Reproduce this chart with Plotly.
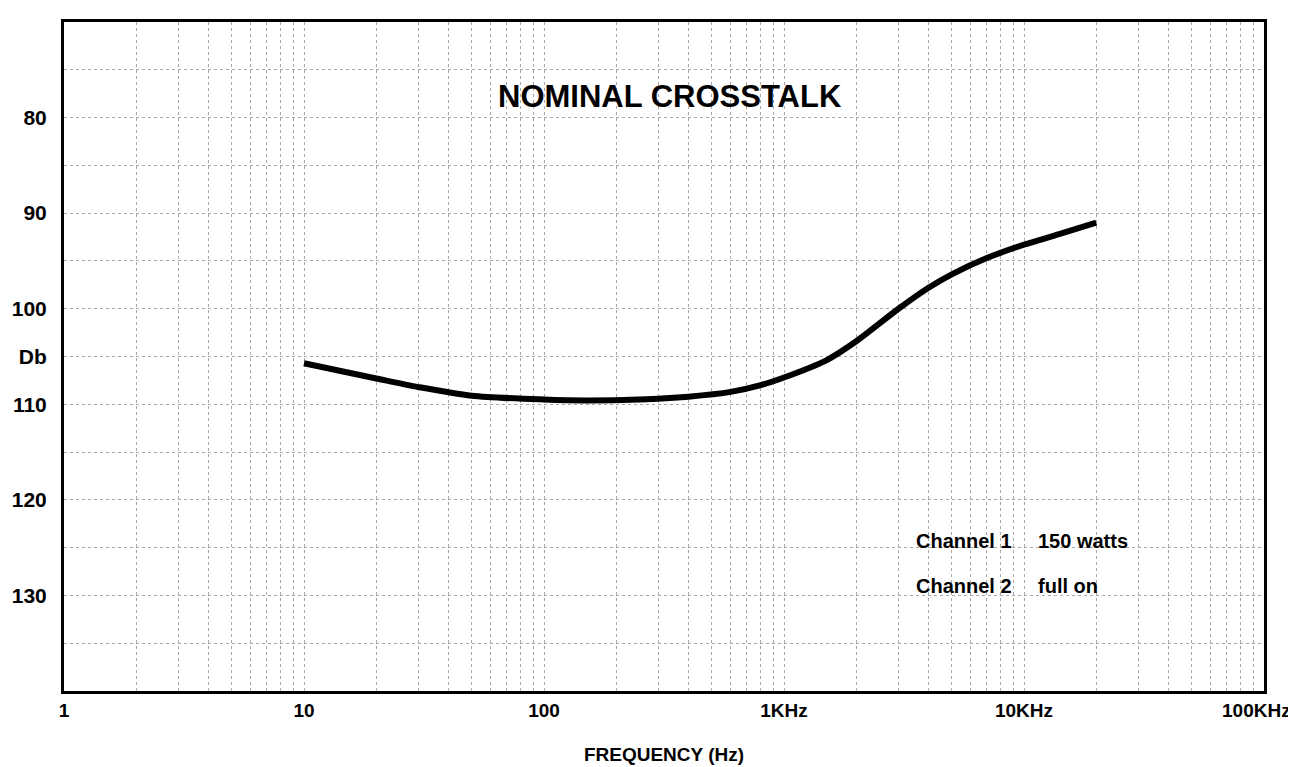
import plotly.graph_objects as go

# Data
freq_hz = [10, 20, 30, 50, 100, 150, 250, 400, 600, 800, 1000, 1500, 2000, 3000, 4000, 5000, 7000, 10000, 14000, 20000]
crosstalk_db = [105.7, 107.3, 108.2, 109.1, 109.5, 109.6, 109.5, 109.2, 108.7, 108.0, 107.2, 105.4, 103.4, 100.0, 97.8, 96.4, 94.7, 93.3, 92.2, 91.0]

x_decades = [1, 10, 100, 1000, 10000, 100000]
x_decade_labels = ["1", "10", "100", "1KHz", "10KHz", "100KHz"]
y_ticks = [80, 90, 100, 105, 110, 120, 130]
y_tick_labels = ["80", "90", "100", "Db", "110", "120", "130"]

FONT = "Liberation Sans Narrow, Arial Narrow, Liberation Sans, Arial, sans-serif"

# x grid values: 1..9 per decade
x_grid = []
for d in x_decades[:-1]:
    for m in range(1, 10):
        x_grid.append(d * m)
x_grid.append(x_decades[-1])
x_text = []
for v in x_grid:
    # last decade label drawn as annotation so it is not clipped at the page edge
    if v in x_decades[:-1]:
        x_text.append("<b>" + x_decade_labels[x_decades.index(v)] + "</b>")
    else:
        x_text.append("")

y_grid = list(range(75, 140, 5))
y_text = []
for v in y_grid:
    if v in y_ticks:
        y_text.append("<b>" + y_tick_labels[y_ticks.index(v)] + "</b>")
    else:
        y_text.append("")

fig = go.Figure()
fig.add_trace(go.Scatter(
    x=freq_hz, y=crosstalk_db, mode="lines",
    line=dict(color="black", width=6, shape="spline", smoothing=0.8),
    showlegend=False, hoverinfo="skip",
))

fig.update_layout(
    width=1296, height=767,
    margin=dict(l=56, r=40, t=14, b=84),
    paper_bgcolor="white", plot_bgcolor="white",
    font=dict(family=FONT, color="black", size=19),
    xaxis=dict(
        type="log", range=[0, 5], automargin=False,
        tickvals=x_grid, ticktext=x_text, ticks="",
        showgrid=True, gridcolor="#a8a8a8", gridwidth=1, griddash="dot",
        showline=True, linecolor="black", linewidth=3, mirror=True,
        zeroline=False,
        tickfont=dict(family=FONT, size=19),
        title=dict(text="<b>FREQUENCY (Hz)</b>", font=dict(family=FONT, size=19), standoff=28),
    ),
    yaxis=dict(
        range=[140, 70], automargin=False,
        tickvals=y_grid, ticktext=y_text, ticks="",
        showgrid=True, gridcolor="#a8a8a8", gridwidth=1, griddash="dot",
        showline=True, linecolor="black", linewidth=3, mirror=True,
        zeroline=False, ticklabelstandoff=10,
        tickfont=dict(family=FONT, size=21),
    ),
)

fig.add_annotation(
    x=5, y=0, xref="x", yref="paper", xanchor="center", yanchor="top",
    xshift=-8, yshift=-7,
    text="<b>" + x_decade_labels[-1] + "</b>", showarrow=False,
    font=dict(family=FONT, size=19, color="black"),
)
fig.add_annotation(
    x=0.505, y=77.8, xref="paper", yref="y",
    text="<b>NOMINAL CROSSTALK</b>", showarrow=False,
    font=dict(family=FONT, size=31, color="black"),
)
fig.add_annotation(
    x=3.54, y=124.3, xref="x", yref="y", xanchor="left",
    text="<b>Channel 1</b>", showarrow=False,
    font=dict(family=FONT, size=20, color="black"),
)
fig.add_annotation(
    x=4.05, y=124.3, xref="x", yref="y", xanchor="left",
    text="<b>150 watts</b>", showarrow=False,
    font=dict(family=FONT, size=20, color="black"),
)
fig.add_annotation(
    x=3.54, y=129.0, xref="x", yref="y", xanchor="left",
    text="<b>Channel 2</b>", showarrow=False,
    font=dict(family=FONT, size=20, color="black"),
)
fig.add_annotation(
    x=4.05, y=129.0, xref="x", yref="y", xanchor="left",
    text="<b>full on</b>", showarrow=False,
    font=dict(family=FONT, size=20, color="black"),
)

fig.write_html("out.html")
